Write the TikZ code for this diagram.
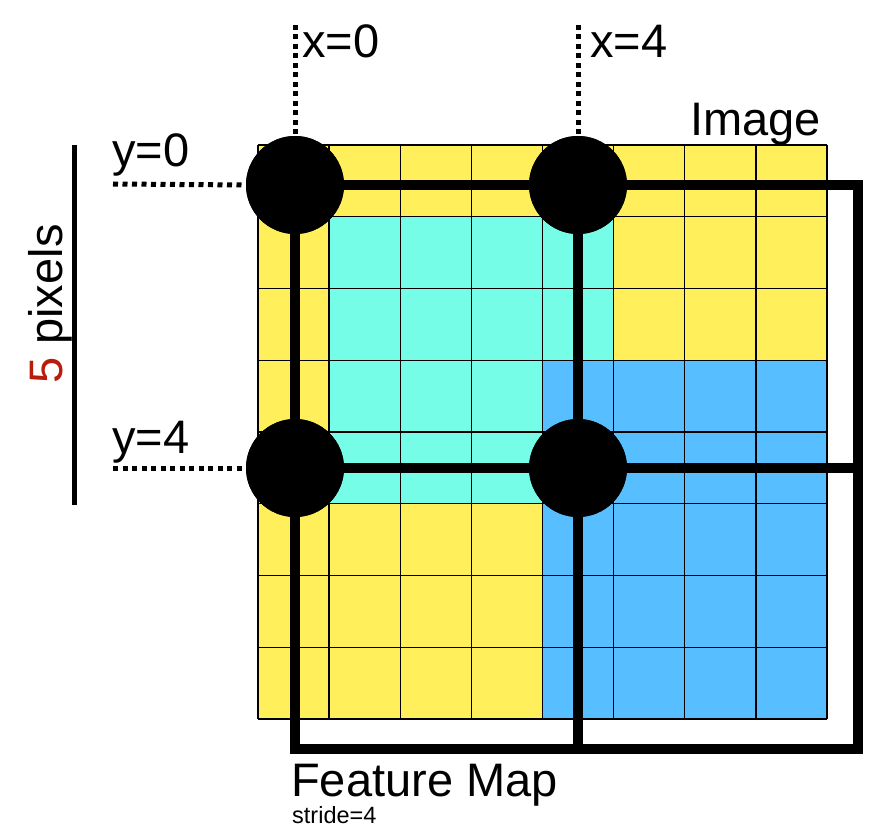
\documentclass[tikz,border=0pt]{standalone}
\usepackage{fontspec}
\setmainfont{Liberation Sans}
\definecolor{cellyellow}{HTML}{FFEF5A}
\definecolor{cellcyan}{HTML}{76FDE8}
\definecolor{cellblue}{HTML}{57BFFF}
\definecolor{fivered}{HTML}{B71C0C}
\begin{document}
\begin{tikzpicture}[x=1pt,y=-1pt,
  gridline/.style={line width=1.4pt},
  fmline/.style={line width=10pt},
  dot/.style={circle,fill=black,minimum size=98pt,inner sep=0pt},
  dotline/.style={line width=5pt,dash pattern=on 5pt off 4.5pt},
  biglabel/.style={inner sep=0pt,anchor=base west,font=\fontsize{47}{50}\selectfont},
  smalllabel/.style={inner sep=0pt,anchor=base west,font=\fontsize{23.5}{26}\selectfont}]
\useasboundingbox (0,0) rectangle (884,840);
% image cells
\fill[cellyellow] (258,145) rectangle (827,719);
\fill[cellcyan] (329.125,216.75) rectangle (613.5,503.75);
\fill[cellblue] (542.5,360.25) rectangle (827,719);
\foreach \i in {0,...,8} \draw[gridline] ({258+\i*71.125},145) -- ({258+\i*71.125},719);
\foreach \j in {0,...,8} \draw[gridline] (258,{145+\j*71.75}) -- (827,{145+\j*71.75});
% feature map
\coordinate (tr) at (858,185);
\coordinate (mr) at (858,468);
\coordinate (bl) at (295,749);
\coordinate (bm) at (578,749);
\coordinate (br) at (858,749);
\node[dot] (p00) at (295,185) {};
\node[dot] (p40) at (578,185) {};
\node[dot] (p04) at (295,468) {};
\node[dot] (p44) at (578,468) {};
\draw[fmline,line join=miter] (p00.center) -- (tr) -- (br) -- (bl) -- cycle;
\draw[fmline] (p40.center) -- (bm);
\draw[fmline] (p04.center) -- (mr);
\node[dot] at (p00) {};
\node[dot] at (p40) {};
\node[dot] at (p04) {};
\node[dot] at (p44) {};
% dotted guides
\coordinate (gx0) at (295,25);
\coordinate (gx4) at (578,25);
\coordinate (gy0) at (113,184);
\coordinate (gy4) at (113,468);
\draw[dotline] (gx0) -- (p00.north);
\draw[dotline] (gx4) -- (p40.north);
\draw[dotline] (gy0) -- (p00.west);
\draw[dotline] (gy4) -- (p04.west);
% labels
\node[biglabel] (lx0) at (302,58) {x=0};
\node[biglabel] (lx4) at (590,58) {x=4};
\node[biglabel] (ly0) at (112,167) {y=0};
\node[biglabel] (ly4) at (112,453) {y=4};
\node[biglabel] (limg) at (690,136) {Image};
\node[biglabel] (lfm) at (291,796) {Feature Map};
\node[smalllabel] (lst) at (292,823) {stride=4};
% 5 pixels scale
\coordinate (st) at (74,145);
\coordinate (sb) at (74,505);
\draw[line width=5pt] (st) -- (sb);
\node[biglabel,rotate=90] (lpx) at (62,384) {\textcolor{fivered}{5} pixels};
\end{tikzpicture}
\end{document}
